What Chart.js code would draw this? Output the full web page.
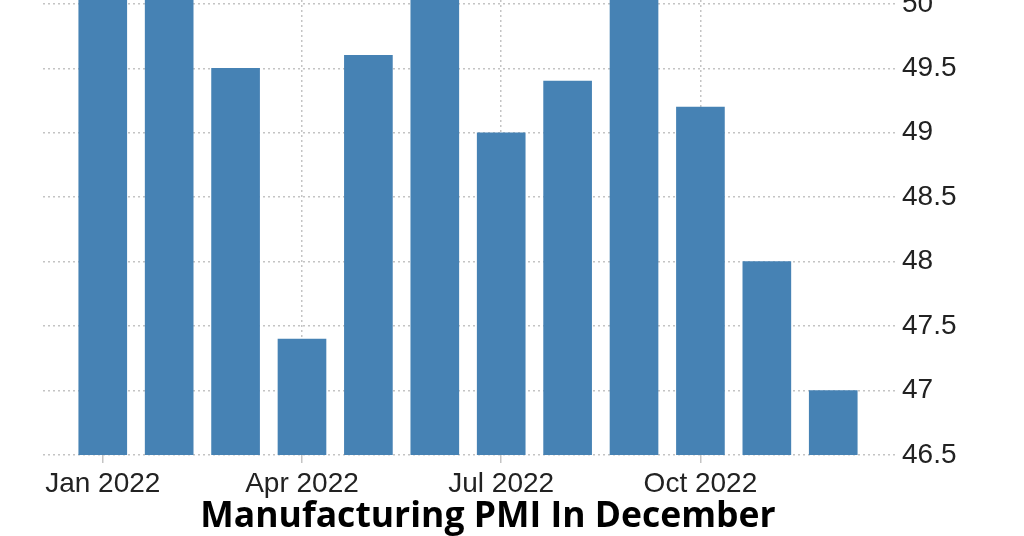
<!DOCTYPE html>
<html>
<head>
<meta charset="utf-8">
<script src="https://cdn.jsdelivr.net/npm/chart.js@4/dist/chart.umd.min.js"></script>
<style>
  html, body { margin: 0; padding: 0; background: #fff; }
  #wrap { position: relative; width: 1024px; height: 536px; overflow: hidden; }
  #title {
    position: absolute; left: 0; width: 976px; top: 496px;
    text-align: center; font-family: "Open Sans", sans-serif; font-weight: 700;
    font-size: 35.5px; line-height: 35px; color: #000;
  }
</style>
</head>
<body>
<div id="wrap">
  <canvas id="pmiChart" width="1024" height="536"></canvas>
  <div id="title">Manufacturing PMI In December</div>
</div>
<script>
// Monthly manufacturing PMI, 2022
const months = ["Jan 2022", "Feb 2022", "Mar 2022", "Apr 2022", "May 2022", "Jun 2022",
                "Jul 2022", "Aug 2022", "Sep 2022", "Oct 2022", "Nov 2022", "Dec 2022"];
const pmiValues = [50.1, 50.2, 49.5, 47.4, 49.6, 50.2, 49.0, 49.4, 50.1, 49.2, 48.0, 47.0];
const xTickIndexes = [0, 3, 6, 9];
const yTickValues = [46.5, 47, 47.5, 48, 48.5, 49, 49.5, 50];

const gridColor = "#c4c4c4";
const labelFont = { family: "Liberation Sans", size: 28 };

const ctx = document.getElementById("pmiChart").getContext("2d");
new Chart(ctx, {
  type: "bar",
  data: {
    datasets: [{
      label: "Manufacturing PMI",
      data: pmiValues.map((v, i) => ({ x: i, y: v })),
      backgroundColor: "#4682b4",
      barThickness: 48
    }]
  },
  options: {
    responsive: false,
    animation: false,
    layout: { padding: { left: 43, top: 0, right: 0, bottom: 0 } },
    plugins: {
      legend: { display: false },
      tooltip: { enabled: false }
    },
    scales: {
      x: {
        type: "linear",
        offset: false,
        min: -0.9,
        max: 11.93,
        afterBuildTicks: scale => {
          scale.ticks = xTickIndexes.map(v => ({ value: v }));
        },
        afterFit: scale => {
          scale.height = 81;
          scale.paddingLeft = 0;
          scale.paddingRight = 0;
        },
        border: { display: false, dash: [2, 3] },
        grid: {
          offset: false,
          color: gridColor,
          lineWidth: 1.5,
          tickLength: 8,
          tickBorderDash: []
        },
        ticks: {
          autoSkip: false,
          maxRotation: 0,
          padding: 4,
          color: "#222",
          font: labelFont,
          callback: v => months[v]
        }
      },
      y: {
        position: "right",
        min: 46.5,
        max: 50.03,
        afterBuildTicks: scale => {
          scale.ticks = yTickValues.map(v => ({ value: v }));
        },
        afterFit: scale => {
          scale.width = 129;
          scale.paddingTop = 0;
          scale.paddingBottom = 0;
        },
        border: { display: false, dash: [2, 3] },
        grid: {
          color: gridColor,
          lineWidth: 1.5,
          drawTicks: false
        },
        ticks: {
          padding: 7,
          color: "#222",
          font: labelFont,
          callback: v => String(v)
        }
      }
    }
  }
});
</script>
</body>
</html>
